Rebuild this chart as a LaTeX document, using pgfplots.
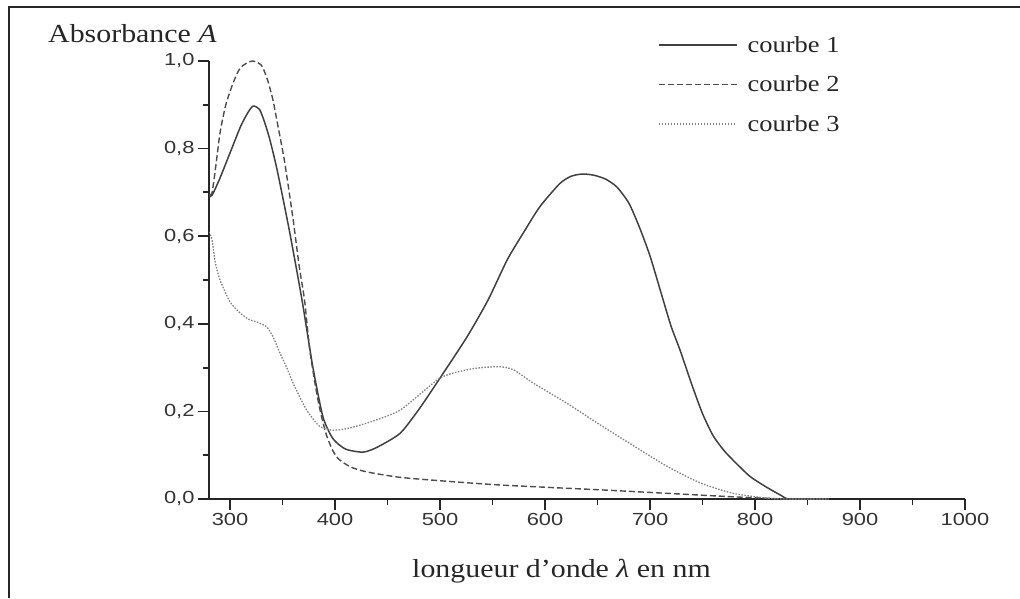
\documentclass[border=0pt]{standalone}
\usepackage{fontspec}
\setmainfont[FakeStretch=1.15]{Liberation Serif}
\newfontfamily\ticksans[FakeStretch=1.25]{Liberation Sans}
\usepackage{pgfplots}
\pgfplotsset{compat=1.18}
\begin{document}
\begin{tikzpicture}
\path[use as bounding box] (0,0) rectangle (1020pt,598pt);
\draw[line width=2.2pt, black!85] (9pt,0) -- (9pt,591pt) -- (1020pt,591pt);
\begin{axis}[
  at={(209pt,99pt)}, anchor=south west,
  scale only axis, width=756pt, height=438pt,
  xmin=280, xmax=1000, ymin=0, ymax=1,
  axis x line*=bottom, axis y line*=left,
  axis line style={-, line width=2.6pt, black!85},
  xtick={300,400,500,600,700,800,900,1000},
  ytick={0,0.2,0.4,0.6,0.8,1.0},
  minor x tick num=1, minor y tick num=1,
  tick align=outside, major tick length=11pt, minor tick length=6pt,
  every tick/.style={black!85, line width=1.8pt},
  tick label style={font=\fontsize{17.5}{19}\ticksans, text=black!80},
  /pgf/number format/assume math mode=true,
  xticklabel style={/pgf/number format/1000 sep={}},
  yticklabel style={/pgf/number format/fixed, /pgf/number format/fixed zerofill, /pgf/number format/precision=1, /pgf/number format/use comma},
  every axis x label/.style={at={(axis description cs:0.5,0)}, anchor=base, xshift=-25.5pt, yshift=-78pt, font=\fontsize{26}{28}\selectfont, text=black!85},
  every axis y label/.style={at={(axis description cs:0,1)}, anchor=base, xshift=-76.5pt, yshift=18pt, font=\fontsize{26}{28}\selectfont, text=black!85},
  xlabel={longueur d'onde \textit{λ} en nm},
  ylabel={Absorbance \textit{A}},
  legend style={at={(axis description cs:0.59,1.066)}, anchor=north west, draw=none, fill=none, font=\fontsize{23}{25}\selectfont, text=black!85, row sep=18pt, /tikz/every odd column/.append style={column sep=8pt}},
  legend cell align=left,
  legend image code/.code={\draw[#1] (0pt,0pt) -- (78pt,0pt);},
]
\addplot[black!75, line width=1.5pt, smooth, tension=0.4] coordinates {
(280,0.69) (283,0.694) (290,0.73) (300,0.79) (310,0.85) (317,0.882) (322,0.897) (328,0.89) (333,0.86) (338,0.82) (345,0.75) (357,0.607) (368.6,0.454) (379,0.30) (388.6,0.187) (398,0.138) (410,0.114) (426.7,0.107) (440,0.118) (462,0.15) (480,0.205) (500,0.276) (525.7,0.37) (545.7,0.454) (564,0.546) (580,0.61) (595,0.667) (614,0.72) (625,0.737) (636,0.742) (647,0.739) (658,0.73) (668.6,0.712) (680,0.675) (690,0.62) (700,0.555) (710,0.475) (720,0.395) (728.6,0.34) (740,0.26) (750,0.195) (760,0.145) (770,0.112) (779,0.089) (795,0.052) (811,0.027) (825,0.008) (833,0) (870,0)
};
\addlegendentry{courbe 1}
\addplot[black!70, line width=1.4pt, dash pattern=on 6pt off 3pt, smooth, tension=0.4] coordinates {
(280,0.695) (283,0.70) (287,0.77) (290.5,0.836) (296,0.9) (303,0.95) (310,0.985) (321,1.0) (330,0.99) (336,0.955) (341,0.91) (345,0.86) (352,0.77) (360,0.64) (366,0.53) (371,0.454) (376,0.34) (382.6,0.241) (387,0.19) (392,0.145) (398,0.11) (404,0.09) (415,0.073) (430,0.062) (460,0.05) (493,0.043) (557,0.032) (652,0.021) (716,0.013) (779,0.005) (830,0) (870,0)
};
\addlegendentry{courbe 2}
\addplot[black!50, line width=1.3pt, dash pattern=on 1.5pt off 1.5pt, smooth, tension=0.4] coordinates {
(280,0.61) (283,0.59) (286,0.54) (290.5,0.50) (300,0.45) (309.5,0.425) (318,0.41) (325.7,0.404) (335,0.393) (341,0.37) (347.6,0.333) (354,0.30) (360,0.265) (366,0.235) (373,0.203) (380,0.18) (385.7,0.165) (392,0.16) (398,0.157) (410,0.16) (430,0.173) (462,0.203) (500,0.276) (525.7,0.295) (540,0.30) (557,0.302) (570,0.295) (588.6,0.265) (620.6,0.219) (652,0.17) (684,0.122) (716,0.075) (747.6,0.037) (779,0.013) (811,0.002) (830,0) (870,0)
};
\addlegendentry{courbe 3}
\end{axis}
\end{tikzpicture}
\end{document}
